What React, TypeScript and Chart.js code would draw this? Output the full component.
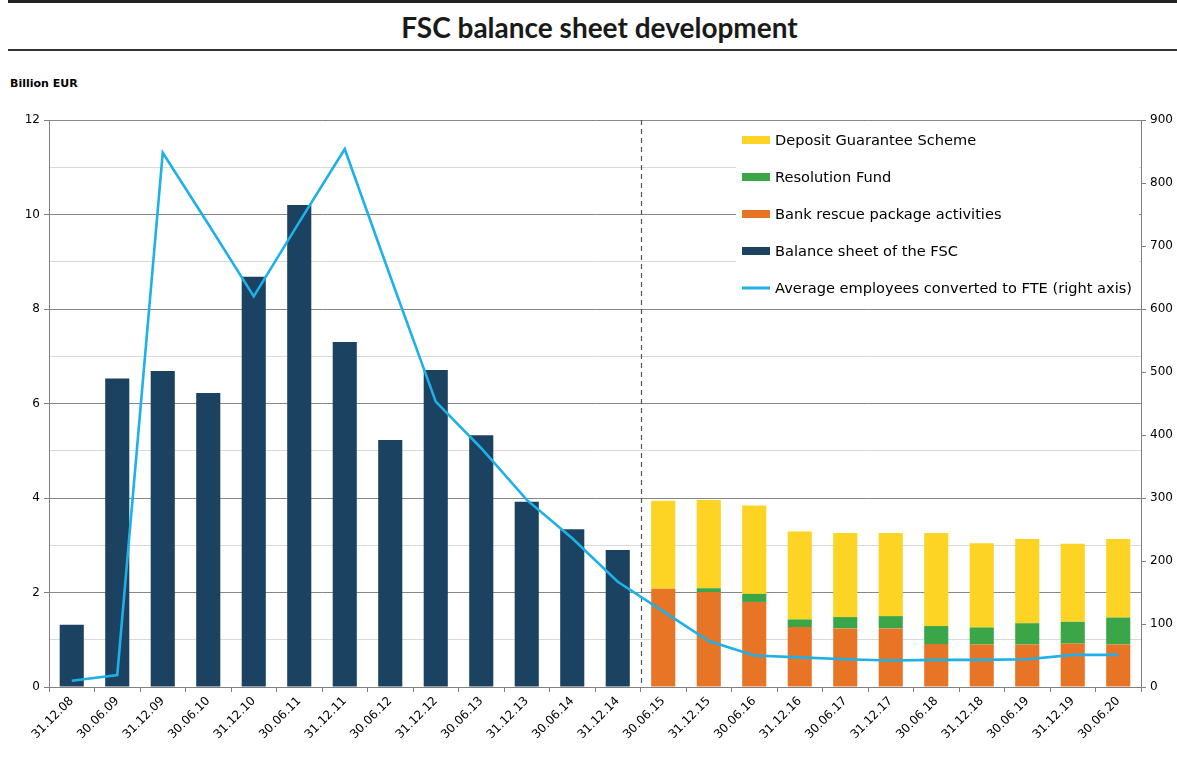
import React, { useEffect, useRef } from "react";
import { Chart, registerables } from "chart.js";

Chart.register(...registerables);

const categories = [
  "31.12.08", "30.06.09", "31.12.09", "30.06.10", "31.12.10", "30.06.11",
  "31.12.11", "30.06.12", "31.12.12", "30.06.13", "31.12.13", "30.06.14",
  "31.12.14", "30.06.15", "31.12.15", "30.06.16", "31.12.16", "30.06.17",
  "31.12.17", "30.06.18", "31.12.18", "30.06.19", "31.12.19", "30.06.20",
];

const balanceSheet = [
  1.32, 6.53, 6.69, 6.22, 8.68, 10.2, 7.3, 5.23, 6.71, 5.33, 3.92, 3.34, 2.9,
  null, null, null, null, null, null, null, null, null, null, null,
];
const bankRescue = [
  null, null, null, null, null, null, null, null, null, null, null, null, null,
  2.08, 2.01, 1.8, 1.27, 1.24, 1.24, 0.91, 0.9, 0.9, 0.92, 0.9,
];
const resolutionFund = [
  null, null, null, null, null, null, null, null, null, null, null, null, null,
  0.0, 0.08, 0.17, 0.16, 0.24, 0.26, 0.38, 0.36, 0.45, 0.46, 0.57,
];
const depositGuarantee = [
  null, null, null, null, null, null, null, null, null, null, null, null, null,
  1.86, 1.87, 1.87, 1.86, 1.78, 1.76, 1.97, 1.78, 1.78, 1.65, 1.66,
];
const employeesFTE = [
  10, 19, 848, 735, 620, 738, 854, 652, 453, 379, 297, 236, 167, 120, 73, 50,
  47, 44, 42, 43, 43, 44, 51, 51,
];

const leftTickLabels = [0, 2, 4, 6, 8, 10, 12];
const rightTickMax = 900;

const legendOrder = [2, 1, 0, 3, 4];

const FONT = '"DejaVu Sans", Verdana, sans-serif';

const legendPlugin = {
  id: "insideLegend",
  beforeDatasetsDraw(chart: any) {
    const { ctx, chartArea } = chart;
    const left = chartArea.right - 405;
    const top = chartArea.top + 1;
    ctx.save();
    ctx.fillStyle = "#ffffff";
    ctx.fillRect(left, top, 403, 186);
    legendOrder.forEach((idx, i) => {
      const ds = chart.data.datasets[idx];
      const cy = chartArea.top + 20 + i * 37;
      if (ds.type === "line") {
        ctx.fillStyle = ds.borderColor;
        ctx.fillRect(left + 6, cy - 1.5, 28, 3);
      } else {
        ctx.fillStyle = ds.backgroundColor;
        ctx.fillRect(left + 6, cy - 4, 28, 8);
      }
      ctx.fillStyle = "#000";
      ctx.font = `14.6px ${FONT}`;
      ctx.textBaseline = "middle";
      ctx.textAlign = "left";
      ctx.fillText(ds.label, left + 39, cy + 1);
    });
    ctx.restore();
  },
};

const dividerPlugin = {
  id: "divider",
  beforeDatasetsDraw(chart: any) {
    const { ctx, chartArea, scales } = chart;
    const x = (scales.x.getPixelForValue(12) + scales.x.getPixelForValue(13)) / 2;
    ctx.save();
    ctx.strokeStyle = "#555";
    ctx.lineWidth = 1.2;
    ctx.setLineDash([5, 4]);
    ctx.beginPath();
    ctx.moveTo(Math.round(x) + 0.5, chartArea.top);
    ctx.lineTo(Math.round(x) + 0.5, chartArea.bottom);
    ctx.stroke();
    ctx.restore();
  },
};

export default function App() {
  const ref = useRef<HTMLCanvasElement>(null);

  useEffect(() => {
    if (!ref.current) return;
    Chart.defaults.font.family = FONT;
    const chart = new Chart(ref.current, {
      type: "bar",
      data: {
        labels: categories,
        datasets: [
          {
            type: "bar",
            label: "Bank rescue package activities",
            data: bankRescue,
            backgroundColor: "#e87425",
            stack: "a",
            order: 1,
            barPercentage: 0.53,
            categoryPercentage: 1,
          },
          {
            type: "bar",
            label: "Resolution Fund",
            data: resolutionFund,
            backgroundColor: "#3aa647",
            stack: "a",
            order: 1,
            barPercentage: 0.53,
            categoryPercentage: 1,
          },
          {
            type: "bar",
            label: "Deposit Guarantee Scheme",
            data: depositGuarantee,
            backgroundColor: "#fdd324",
            stack: "a",
            order: 1,
            barPercentage: 0.53,
            categoryPercentage: 1,
          },
          {
            type: "bar",
            label: "Balance sheet of the FSC",
            data: balanceSheet,
            backgroundColor: "#1c4262",
            stack: "a",
            order: 1,
            barPercentage: 0.53,
            categoryPercentage: 1,
          },
          {
            type: "line",
            label: "Average employees converted to FTE (right axis)",
            data: employeesFTE,
            borderColor: "#1eb1e7",
            backgroundColor: "#1eb1e7",
            borderWidth: 2.6,
            pointRadius: 0,
            tension: 0,
            yAxisID: "y1",
            order: 0,
          } as any,
        ],
      },
      options: {
        responsive: false,
        animation: false,
        layout: { padding: { top: 25, left: 8, right: 0, bottom: 0 } },
        plugins: {
          legend: { display: false },
          tooltip: { enabled: false },
          title: { display: false },
        },
        scales: {
          x: {
            stacked: true,
            grid: {
              display: true,
              drawOnChartArea: false,
              drawTicks: true,
              tickLength: 5,
              color: "#808080",
              offset: true,
            },
            border: { color: "#808080" },
            ticks: {
              color: "#000",
              font: { size: 12 },
              minRotation: 45,
              maxRotation: 45,
              autoSkip: false,
              padding: 2,
            },
            afterFit(scale: any) {
              scale.height = 71;
            },
          },
          y: {
            stacked: true,
            position: "left",
            min: 0,
            max: leftTickLabels[leftTickLabels.length - 1],
            ticks: {
              stepSize: 1,
              color: "#000",
              font: { size: 12 },
              padding: 4,
              callback: (v: any) => (leftTickLabels.includes(Number(v)) ? String(v) : ""),
            },
            grid: {
              color: (c: any) => (c.tick && c.tick.value % 2 ? "#d9d9d9" : "#878787"),
              tickColor: (c: any) => (c.tick && c.tick.value % 2 ? "rgba(0,0,0,0)" : "#808080"),
              tickLength: 5,
              lineWidth: 1,
            },
            border: { color: "#808080" },
            afterFit(scale: any) {
              scale.width = 41;
            },
          },
          y1: {
            position: "right",
            min: 0,
            max: rightTickMax,
            ticks: {
              stepSize: 100,
              color: "#000",
              font: { size: 12 },
              padding: 4,
            },
            grid: {
              drawOnChartArea: false,
              tickLength: 5,
              color: "#808080",
            },
            border: { color: "#808080" },
            afterFit(scale: any) {
              scale.width = 36;
            },
          },
        },
      },
      plugins: [dividerPlugin, legendPlugin],
    });
    return () => chart.destroy();
  }, []);

  return (
    <div
      style={{
        position: "absolute",
        left: 0,
        top: 0,
        width: 1177,
        height: 758,
        fontFamily: FONT,
        background: "#fff",
        overflow: "hidden",
      }}
    >
      <div style={{ position: "absolute", left: 8, top: 0, width: 1169, height: 3, background: "#222" }} />
      <div
        style={{
          position: "absolute",
          left: 15,
          top: 10,
          width: 1169,
          textAlign: "center",
          fontWeight: "bold",
          fontFamily: "Lato, sans-serif",
          fontSize: 28,
          color: "#1a1a1a",
          lineHeight: "34px",
        }}
      >
        FSC balance sheet development
      </div>
      <div style={{ position: "absolute", left: 8, top: 49, width: 1169, height: 2, background: "#333" }} />
      <div
        style={{
          position: "absolute",
          left: 10,
          top: 77,
          fontWeight: "bold",
          fontSize: 11,
          color: "#000",
        }}
      >
        Billion EUR
      </div>
      <div style={{ position: "absolute", left: 0, top: 95, width: 1177, height: 663 }}>
        <canvas ref={ref} width={1177} height={663} />
      </div>
    </div>
  );
}
